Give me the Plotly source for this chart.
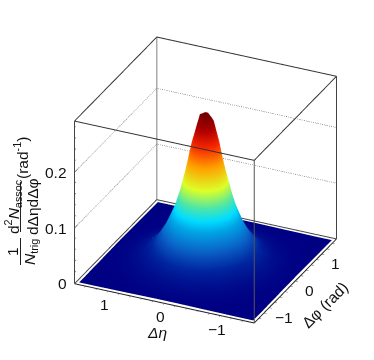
import plotly.graph_objects as go

# yield on one quadrant of the (|dEta|, |dPhi|) grid
eta_abs = [0, .1, .2, .3, .4, .5, .65, .8, 1.0, 1.25, 1.55]
phi_abs = [0, .1, .2, .3, .4, .5, .65, .8, 1.0, 1.25, 1.5]
quadrant = [
 [.268,.262,.225,.175,.130,.097,.062,.036,.016,.005,.0010],
 [.262,.250,.214,.167,.126,.094,.060,.035,.015,.0048,.0010],
 [.225,.214,.183,.148,.113,.086,.056,.033,.014,.0044,.0010],
 [.175,.167,.148,.122,.096,.075,.048,.029,.013,.004,.0009],
 [.130,.126,.113,.096,.078,.061,.041,.023,.011,.0035,.0008],
 [.097,.094,.086,.075,.061,.048,.033,.018,.009,.003,.0007],
 [.062,.060,.056,.048,.041,.033,.021,.013,.0065,.0022,.0005],
 [.036,.035,.033,.029,.023,.018,.013,.0085,.0042,.0015,.0004],
 [.016,.015,.014,.013,.011,.009,.0065,.0042,.0022,.0008,.0003],
 [.005,.0048,.0044,.004,.0035,.003,.0022,.0015,.0008,.0004,.0001],
 [.0010,.0010,.0010,.0009,.0008,.0007,.0005,.0004,.0003,.0001,.0001],
]
eta_range = [1.6, -1.6]
phi_range = [-1.57, 1.57]
z_range = [0, 0.292]
z_grid = [0.1, 0.2]
eta_ticks = [-1, 0, 1]
phi_ticks = [-1, 0, 1]
z_ticks = [0, 0.1, 0.2]
eta_labels = ["\u22121", "0", "1"]
phi_labels = ["\u22121", "0", "1"]
z_labels = ["0", "0.1", "0.2"]
eta_minor = [-1.4,-1.2,-1,-.8,-.6,-.4,-.2,0,.2,.4,.6,.8,1,1.2,1.4]
phi_minor = [-1.4,-1.2,-1,-.8,-.6,-.4,-.2,0,.2,.4,.6,.8,1,1.2,1.4]
z_minor = [.02,.04,.06,.08,.12,.14,.16,.18,.22,.24,.26,.28]
colors = [[0, "#000083"], [.1, "#00259f"], [.2, "#0a64c8"], [.3, "#00a5e6"], [.36, "#00dcff"], [.44, "#50e6a5"],
          [.54, "#dcff28"], [.68, "#ffa000"], [.8, "#f82800"], [.9, "#b00000"], [1, "#700000"]]

FONT = dict(family="Liberation Sans", size=15.5, color="#111")

ex = [-v for v in eta_abs[:0:-1]] + eta_abs
py = [-v for v in phi_abs[:0:-1]] + phi_abs
rows = [r[:0:-1] + r for r in quadrant]
z = rows[:0:-1] + rows

fig = go.Figure()
fig.add_surface(x=ex, y=py, z=z, colorscale=colors, cmin=0, cmax=0.268, showscale=False, hoverinfo="skip",
                lighting=dict(ambient=1, diffuse=0, specular=0, roughness=1, fresnel=0),
                contours=dict(x=dict(highlight=False), y=dict(highlight=False), z=dict(highlight=False)))

xa, xb = eta_range
ya, yb = phi_range
za, zb = z_range

def line(xs, ys, zs, color="#333", width=1.5, dash="solid"):
    fig.add_scatter3d(x=xs, y=ys, z=zs, mode="lines", hoverinfo="skip", showlegend=False,
                      line=dict(color=color, width=width, dash=dash))

line([xa, xb, xb], [ya, ya, yb], [za]*3, color="#222", width=2)
line([xa, xa, xb], [ya, yb, yb], [za]*3, color="#444", width=2)
line([xa, xb, xb, xa, xa], [ya, ya, yb, yb, ya], [zb]*5, color="#333", width=2)
line([xa, xa], [ya, ya], [za, zb], color="#444", width=2)
line([xb, xb], [ya, ya], [za, zb], color="#555", width=2)
line([xb, xb], [yb, yb], [za, zb], color="#444", width=2)
line([xa, xa], [yb, yb], [za, zb], color="#aaa", width=3)
for zz in z_grid:
    line([xa, xa, xb], [ya, yb, yb], [zz]*3, color="#555", width=1.5, dash="dot")
for zz in z_ticks[1:]:
    line([xa, xa], [ya, ya + 0.12], [zz, zz], color="#444", width=1)
for zz in z_minor:
    line([xa, xa], [ya, ya + 0.06], [zz, zz], color="#666", width=1)

axis = dict(showgrid=False, zeroline=False, showline=False, showbackground=False, title="",
            ticklen=3, tickcolor="#444", showticklabels=False, showspikes=False)

scene_ann = []
for v, t in zip(eta_ticks, eta_labels):
    scene_ann.append(dict(x=v, y=ya, z=0, text=t, showarrow=False, xshift=-4, yshift=-13.5, font=FONT))
for v, t in zip(phi_ticks, phi_labels):
    scene_ann.append(dict(x=xb, y=v, z=0, text=t, showarrow=False, xshift=15 if v < 0 else 14, yshift=-9.5, font=FONT))
for v, t in zip(z_ticks, z_labels):
    scene_ann.append(dict(x=xa, y=ya, z=v, text=t, showarrow=False, xanchor="right", xshift=-6, font=FONT))

def label(x, y, text, angle=-90):
    return dict(x=x/374, y=1-y/360, text=text, textangle=angle, showarrow=False, xref="paper", yref="paper",
                xanchor="center", yanchor="middle", font=FONT)

fig.update_layout(
    width=374, height=360, margin=dict(l=0, r=0, t=0, b=0), paper_bgcolor="white", showlegend=False,
    scene=dict(
        domain=dict(x=[0.1, 1.0], y=[0, 1]),
        xaxis=dict(axis, range=eta_range, ticks="outside", tickvals=eta_minor),
        yaxis=dict(axis, range=phi_range, ticks="outside", tickvals=phi_minor),
        zaxis=dict(axis, range=z_range, ticks="", tickvals=z_ticks),
        aspectmode="manual", aspectratio=dict(x=1.10, y=1.089, z=1.025),
        annotations=scene_ann,
        camera=dict(projection=dict(type="orthographic"), up=dict(x=0, y=0, z=1),
                    center=dict(x=0, y=0, z=0),
                    eye=dict(x=0.531, y=-1.148, z=0.678)),
    ),
    annotations=[
        label(157, 332, "<i>\u0394\u03b7</i>", 0),
        label(324, 305, "\u0394\u03c6 (rad)", -45),
        label(13, 252, "1"),
        label(31, 252, "<i>N</i><sub>trig</sub>"),
        label(13, 207, "d<sup>2</sup><i>N</i><sub>assoc</sub>"),
        label(33, 207, "d\u0394\u03b7d\u0394\u03c6"),
        label(21, 158, "(rad<sup>-1</sup>)"),
    ],
    shapes=[
        dict(type="line", xref="paper", yref="paper", x0=20.5/374, x1=20.5/374, y0=1-238/360, y1=1-265/360, line=dict(color="#222", width=1)),
        dict(type="line", xref="paper", yref="paper", x0=20.5/374, x1=20.5/374, y0=1-182/360, y1=1-232/360, line=dict(color="#222", width=1)),
    ],
)
fig.write_html("out.html", config=dict(displayModeBar=False), post_script="document.body.style.margin='0';")
